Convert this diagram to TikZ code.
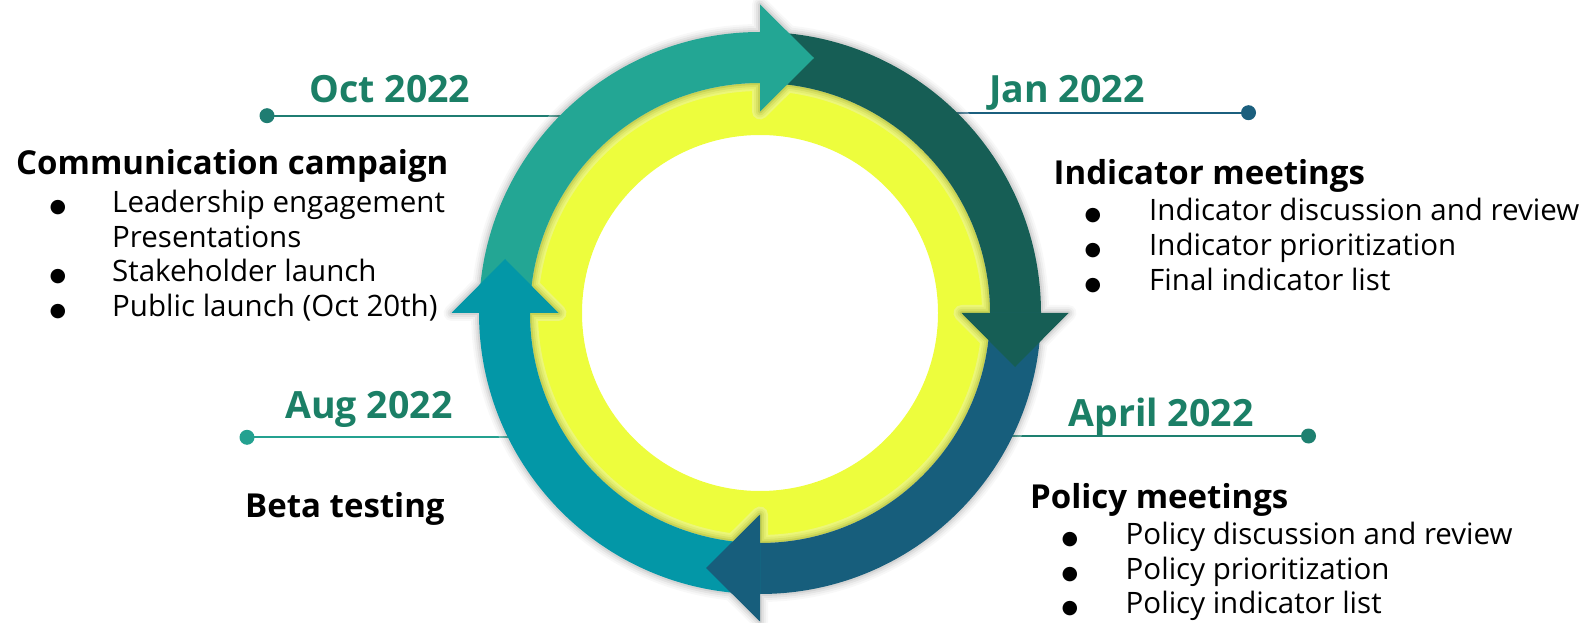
\documentclass[tikz,border=0pt]{standalone}
\usepackage{fontspec}
\setmainfont{Open Sans}
\newfontfamily\dejavu{DejaVu Sans}
\usetikzlibrary{calc}
\definecolor{cteal}{HTML}{23A694}
\definecolor{cdkgreen}{HTML}{165E55}
\definecolor{cdkblue}{HTML}{175E7C}
\definecolor{ccyan}{HTML}{0397A7}
\definecolor{cyellow}{HTML}{EDFD3D}
\definecolor{cdate}{HTML}{1B7F66}
\definecolor{loct}{HTML}{1F7D72}
\definecolor{ljan}{HTML}{1B5F7E}
\definecolor{lapr}{HTML}{1E8070}
\definecolor{laug}{HTML}{24A190}
\tikzset{
  datelbl/.style={font=\fontsize{37.5}{42}\selectfont\bfseries, text=cdate, inner sep=0pt, anchor=base},
  headlbl/.style={font=\fontsize{33}{37}\selectfont\bfseries, inner sep=0pt, anchor=base west},
  itemlbl/.style={font=\fontsize{29.5}{34}\selectfont, inner sep=0pt, anchor=base west},
  bul/.style={font=\dejavu\fontsize{19}{22}\selectfont, inner sep=0pt, anchor=base},
  tdot/.style={circle, inner sep=0pt, minimum size=15pt},
  tline/.style={line width=2.1pt}
}
\begin{document}
\begin{tikzpicture}[x=1pt,y=1pt]
\useasboundingbox (0,0) rectangle (1593,622);
\coordinate (C) at (760,309);

% timeline connectors (under the ring)
\node[tdot, fill=loct] (octdot) at (267,506.3) {};
\coordinate (octend) at (598,506.3);
\draw[tline, loct] (octdot.center) -- (octend);
\node[tdot, fill=ljan] (jandot) at (1248.5,509.3) {};
\coordinate (janend) at (918,509.3);
\draw[tline, ljan] (janend) -- (jandot.center);
\node[tdot, fill=lapr] (aprdot) at (1308.5,186) {};
\coordinate (aprend) at (983,186);
\draw[tline, lapr] (aprend) -- (aprdot.center);
\node[tdot, fill=laug] (augdot) at (247,184.7) {};
\coordinate (augend) at (537,184.7);
\draw[tline, laug] (augdot.center) -- (augend);

% yellow ring
\fill[cyellow, even odd rule] (C) circle[radius=230pt] (C) circle[radius=178pt];

% soft shadow
\begin{scope}[transparency group, opacity=0.34]
  \foreach \w/\g in {16/8, 12/18, 8/32, 4/50}{
    \draw[line width=\w pt, black!\g, line join=round]
      (C) circle[radius=281pt] (C) circle[radius=230pt]
      ($(C)+(90:308.5pt)$) -- ($(C)+(90:255pt)+(0:54pt)$) -- ($(C)+(90:201.5pt)$) -- cycle
      ($(C)+(0:308.5pt)$) -- ($(C)+(0:255pt)+(-90:54pt)$) -- ($(C)+(0:201.5pt)$) -- cycle
      ($(C)+(270:308.5pt)$) -- ($(C)+(270:255pt)+(180:54pt)$) -- ($(C)+(270:201.5pt)$) -- cycle
      ($(C)+(180:308.5pt)$) -- ($(C)+(180:255pt)+(90:54pt)$) -- ($(C)+(180:201.5pt)$) -- cycle;
  }
\end{scope}

% ring segments
\fill[cteal] ($(C)+(180:281pt)$) arc[start angle=180, end angle=90, radius=281pt]
  -- ($(C)+(90:230pt)$) arc[start angle=90, end angle=180, radius=230pt] -- cycle;
\fill[cdkgreen] ($(C)+(90:281pt)$) arc[start angle=90, end angle=0, radius=281pt]
  -- ($(C)+(0:230pt)$) arc[start angle=0, end angle=90, radius=230pt] -- cycle;
\fill[cdkblue] ($(C)+(0:281pt)$) arc[start angle=0, end angle=-90, radius=281pt]
  -- ($(C)+(-90:230pt)$) arc[start angle=-90, end angle=0, radius=230pt] -- cycle;
\fill[ccyan] ($(C)+(-90:281pt)$) arc[start angle=-90, end angle=-180, radius=281pt]
  -- ($(C)+(-180:230pt)$) arc[start angle=-180, end angle=-90, radius=230pt] -- cycle;

% arrow heads
\fill[cteal] ($(C)+(90:308.5pt)$) -- ($(C)+(90:255pt)+(0:54pt)$) -- ($(C)+(90:201.5pt)$) -- cycle;
\fill[cdkgreen] ($(C)+(0:308.5pt)$) -- ($(C)+(0:255pt)+(-90:54pt)$) -- ($(C)+(0:201.5pt)$) -- cycle;
\fill[cdkblue] ($(C)+(270:308.5pt)$) -- ($(C)+(270:255pt)+(180:54pt)$) -- ($(C)+(270:201.5pt)$) -- cycle;
\fill[ccyan] ($(C)+(180:308.5pt)$) -- ($(C)+(180:255pt)+(90:54pt)$) -- ($(C)+(180:201.5pt)$) -- cycle;

% dates
\node[datelbl] (octlbl) at (390,519) {Oct 2022};
\node[datelbl] (janlbl) at (1067,519) {Jan 2022};
\node[datelbl] (aprlbl) at (1161,196) {April 2022};
\node[datelbl] (auglbl) at (369,204) {Aug 2022};

% left block
\node[headlbl] (comm) at (16,447) {Communication campaign};
\node[bul] (cb1) at (58,409) {●};
\node[itemlbl] (ct1) at (112,409) {Leadership engagement};
\node[itemlbl] (ct1b) at (112,374.5) {Presentations};
\node[bul] (cb2) at (58,340) {●};
\node[itemlbl] (ct2) at (112,340) {Stakeholder launch};
\node[bul] (cb3) at (58,305.5) {●};
\node[itemlbl] (ct3) at (112,305.5) {Public launch (Oct 20th)};

% right top block
\node[headlbl] (ind) at (1053.5,437) {Indicator meetings};
\node[bul] (ib1) at (1093,401) {●};
\node[itemlbl] (it1) at (1149,401) {Indicator discussion and review};
\node[bul] (ib2) at (1093,366) {●};
\node[itemlbl] (it2) at (1149,366) {Indicator prioritization};
\node[bul] (ib3) at (1093,331) {●};
\node[itemlbl] (it3) at (1149,331) {Final indicator list};

% right bottom block
\node[headlbl] (pol) at (1030,114) {Policy meetings};
\node[bul] (pb1) at (1070,78) {●};
\node[itemlbl] (pt1) at (1125.5,78) {Policy discussion and review};
\node[bul] (pb2) at (1070,43) {●};
\node[itemlbl] (pt2) at (1125.5,43) {Policy prioritization};
\node[bul] (pb3) at (1070,9) {●};
\node[itemlbl] (pt3) at (1125.5,9) {Policy indicator list};

% beta testing
\node[headlbl] (beta) at (245,105) {Beta testing};
\end{tikzpicture}
\end{document}
